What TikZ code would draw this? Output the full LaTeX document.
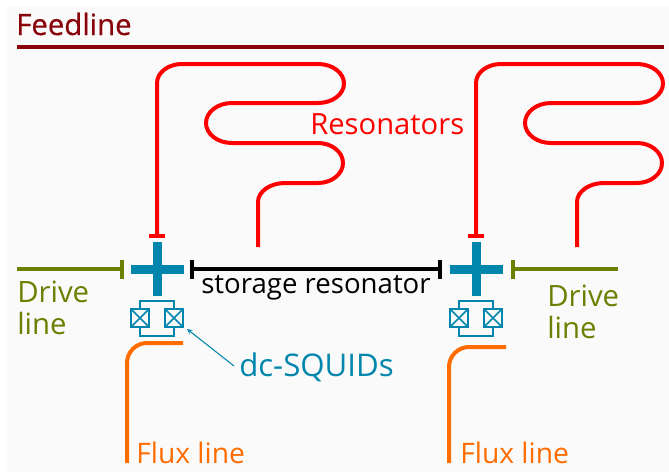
\documentclass[tikz,border=0pt]{standalone}
\usepackage{fontspec}
\setmainfont{Open Sans}
\newfontface\feedfont[FakeBold=0.5]{Open Sans}
\definecolor{bgc}{RGB}{250,250,250}
\definecolor{feed}{RGB}{136,4,10}
\definecolor{res}{RGB}{255,0,0}
\definecolor{qub}{RGB}{0,134,172}
\definecolor{oli}{RGB}{107,127,0}
\definecolor{flx}{RGB}{255,109,0}
\tikzset{
 rescap/.style={line width=3pt,color=res},
 thinbox/.style={draw=qub,line width=1.9pt},
 lab/.style={inner sep=0pt,align=left,anchor=west},
}
\begin{document}
\begin{tikzpicture}[x=0.75pt,y=-0.75pt]
\useasboundingbox (0,0) rectangle (669,472);
\fill[white] (0,0) rectangle (669,472);
\fill[bgc] (7,7) rectangle (669,472);
% feedline
\node[lab,text=feed,font=\feedfont\fontsize{22}{26}\selectfont] (feedlabel) at (16,24) {Feedline};
\coordinate (fa) at (17,47); \coordinate (fb) at (664,47);
\draw[feed,line width=3pt] (fa) -- (fb);
% resonators
\draw[res,line width=3pt] (157,236) -- (157,83)
 .. controls (157,72.5) and (168.2,64) .. (182,64) -- (318,64)
 .. controls (332.4,64) and (344,72.7) .. (344,83.5)
 .. controls (344,94.3) and (332.4,103) .. (318,103) -- (232,103)
 .. controls (217.6,103) and (206,112) .. (206,123)
 .. controls (206,134) and (217.6,143) .. (232,143) -- (318,143)
 .. controls (331.8,143) and (343,152) .. (343,163)
 .. controls (343,174) and (331.8,183) .. (318,183) -- (285,183)
 .. controls (270.1,183) and (258,191.5) .. (258,202) -- (258,247);
\draw[res,line width=3pt] (476,236) -- (476,83)
 .. controls (476,72.5) and (487.2,64) .. (501,64) -- (637,64)
 .. controls (651.4,64) and (663,72.7) .. (663,83.5)
 .. controls (663,94.3) and (651.4,103) .. (637,103) -- (551,103)
 .. controls (536.6,103) and (525,112) .. (525,123)
 .. controls (525,134) and (536.6,143) .. (551,143) -- (637,143)
 .. controls (650.8,143) and (662,152) .. (662,163)
 .. controls (662,174) and (650.8,183) .. (637,183) -- (604,183)
 .. controls (589.1,183) and (577,191.5) .. (577,202) -- (577,247);
\draw[rescap] (149,236) -- (165,236);
\draw[rescap] (468,236) -- (484,236);
\node[lab,text=res,font=\fontsize{21.9}{26}\selectfont] (reslabel) at (310,124) {Resonators};
% transmons
\foreach \cx in {157,476}{
 \fill[qub] (\cx-4.5,242) rectangle (\cx+4.5,296);
 \fill[qub] (\cx-26.5,264.5) rectangle (\cx+26.5,273.5);
}
% drive lines and storage
\draw[oli,line width=3pt] (17,269) -- (122,269);
\draw[oli,line width=3pt] (122,260) -- (122,279);
\draw[oli,line width=3pt] (513,269) -- (618,269);
\draw[oli,line width=3pt] (513,260) -- (513,279);
\draw[black,line width=3pt] (192,269) -- (440,269);
\draw[black,line width=3pt] (192,260) -- (192,279);
\draw[black,line width=3pt] (440,260) -- (440,279);
\node[lab,text=oli,font=\fontsize{22}{23.5}\selectfont] (driveL) at (17,308) {Drive\\line};
\node[lab,text=oli,font=\fontsize{22}{23.5}\selectfont] (driveR) at (547,312) {Drive\\line};
\node[lab,text=black,font=\fontsize{20.7}{25}\selectfont] (stor) at (201,288) {storage resonator};
% squids
\foreach \bx in {131,165,450,484}{
 \draw[thinbox] (\bx,309) rectangle (\bx+18,327);
 \draw[qub,line width=1.2pt] (\bx,309) -- (\bx+18,327) (\bx,327) -- (\bx+18,309);
}
\draw[thinbox] (140,309) -- (140,301) -- (174,301) -- (174,309);
\draw[thinbox] (140,327) -- (140,336) -- (174,336) -- (174,327);
\draw[thinbox] (459,309) -- (459,301) -- (493,301) -- (493,309);
\draw[thinbox] (459,327) -- (459,336) -- (493,336) -- (493,327);
% squid arrow
\coordinate (arrA) at (234,366); \coordinate (arrB) at (187,329);
\draw[qub,line width=0.8pt,-stealth] (arrA) -- (arrB);
\node[lab,text=qub,font=\fontsize{23.4}{28}\selectfont] (squidlabel) at (239,367) {dc-SQUIDs};
% flux
\draw[flx,line width=3pt] (183,343) -- (147,343) .. controls (136,343) and (127,352) .. (127,363) -- (127,463);
\draw[flx,line width=3pt] (506,347) -- (469,347) .. controls (458,347) and (449,356) .. (449,367) -- (449,463);
\node[lab,text=flx,font=\fontsize{21.2}{25}\selectfont] (fluxL) at (136,453) {Flux line};
\node[lab,text=flx,font=\fontsize{21.2}{25}\selectfont] (fluxR) at (460,453) {Flux line};
\end{tikzpicture}
\end{document}
